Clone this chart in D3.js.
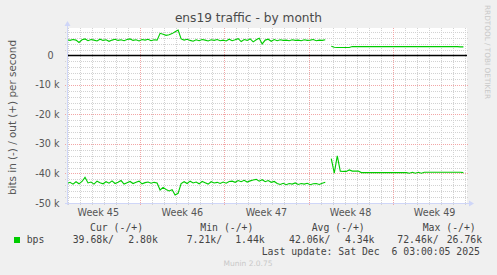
<!DOCTYPE html>
<html>
<head>
<meta charset="utf-8">
<script src="https://cdn.jsdelivr.net/npm/d3@7/dist/d3.min.js"></script>
<style>
  body { margin: 0; background: #f0f0f0; }
  svg { display: block; }
  text { white-space: pre; }
</style>
</head>
<body>
<div id="vizArea"></div>
<script>
// time window of the graph and sample step (6 hours)
var startTime = new Date(2025, 10, 2, 21, 30);
var endTime = new Date(2025, 11, 6, 4, 40);
var stepHours = 6;

// bits per second, in thousands. out is positive, in is negative, null = no data
var outBits = [
  5.3, 5.1, 5.4, 5.2, 4.4, 5.3, 5.6, 5.0, 5.4, 5.2, 4.9, 5.5, 5.1, 5.3, 4.8, 5.2,
  5.5, 5.1, 5.3, 5.0, 5.4, 5.6, 5.1, 5.3, 4.9, 5.4, 5.2, 5.5, 5.0, 5.3, 5.2,
  7.5, 7.2, 6.8, 7.0, 7.4, 8.0, 8.6, 5.6,
  5.2, 5.5, 5.1, 4.8, 5.3, 5.0, 5.4, 5.2, 4.9, 5.3, 5.1, 5.4, 5.0, 5.2, 4.9, 5.5,
  5.0, 5.3, 5.7, 4.7, 5.4, 5.1, 5.6, 4.6, 5.3, 5.8, 3.9, 5.2, 5.5, 4.8, 5.4, 5.0,
  5.3, 5.1, 5.2, 5.0, 5.3, 5.1, 5.2, 5.0, 5.3, 5.1, 5.2, 5.4, 5.0, 5.2, 5.1, 5.3,
  null,
  3.1, 2.8, 2.7, 2.7, 2.7, 2.7, 2.7, 3.0, 3.0, 3.0, 3.0, 3.0, 3.0, 3.0, 3.0, 3.0,
  3.0, 3.0, 3.0, 3.0, 3.0, 3.0, 3.0, 3.0, 3.0, 3.0, 3.0, 3.0, 3.0, 3.0, 3.0, 3.0,
  3.0, 3.0, 3.0, 3.0, 3.0, 3.0, 3.0, 3.0, 3.0, 3.0, 3.0, 2.9, 2.9
];
var inBits = [
  -43.4, -43.0, -43.6, -42.8, -43.5, -42.7, -41.3, -43.2, -42.9, -43.6, -42.6, -43.1,
  -43.5, -42.8, -43.3, -42.5, -43.4, -43.0, -42.4, -43.6, -43.1, -42.7, -43.4, -43.0,
  -42.6, -43.5, -43.1, -42.9, -43.3, -43.0, -43.2,
  -45.6, -44.7, -45.4, -45.9, -45.5, -47.3, -46.7, -43.4,
  -42.8, -43.4, -42.6, -43.2, -42.9, -43.5, -42.7, -43.1, -43.6, -42.8, -43.2, -43.0,
  -43.4, -42.9, -43.3, -42.7, -42.6, -43.0, -42.4, -42.8, -42.3, -42.9, -42.5, -42.2,
  -42.0, -42.6, -42.1, -42.8, -42.4, -43.0, -42.7, -43.4, -43.7, -43.3, -43.8, -43.4,
  -43.6, -43.2, -43.7, -43.4, -43.6, -43.3, -43.8, -43.5, -43.4, -43.7, -43.3, -43.0,
  null,
  -35.0, -39.9, -34.0, -39.2, -39.3, -39.3, -38.8, -39.2, -39.2, -39.2, -39.7, -39.7,
  -39.7, -39.7, -39.7, -39.7, -39.7, -39.7, -39.7, -39.7, -39.7, -39.7, -39.7, -39.7,
  -39.7, -39.7, -39.9, -39.6, -39.9, -39.6, -39.9, -39.6, -39.6, -39.6, -39.6, -39.6,
  -39.6, -39.6, -39.6, -39.6, -39.6, -39.6, -39.6, -39.6, -39.7
];

var yTicks = [0, -10, -20, -30, -40, -50];
var yTickLabels = ["0", "-10 k", "-20 k", "-30 k", "-40 k", "-50 k"];
var weekLabels = ["Week 45", "Week 46", "Week 47", "Week 48", "Week 49"];

var legendHeads = ["Cur (-/+)", "Min (-/+)", "Avg (-/+)", "Max (-/+)"];
var legendIn = ["39.68k/", "7.21k/", "42.06k/", "72.46k/"];
var legendOut = ["2.80k", "1.44k", "4.34k", "26.76k"];
var lastUpdate = "Last update: Sat Dec  6 03:00:05 2025";

var W = 497, H = 275;
var plotL = 67, plotR = 467, plotT = 28, plotB = 203;

var canvas = d3.select("#vizArea")
  .append("svg")
    .attr("width", W)
    .attr("height", H);

canvas.append("rect")
  .attr("width", W).attr("height", H)
  .attr("fill", "#f0f0f0");

var x = d3.scaleTime().domain([startTime, endTime]).range([plotL, plotR]);
var y = d3.scaleLinear().domain([-50, 9.3]).range([plotB, plotT]);
var px = function (v) { return Math.round(v) + 0.5; };

// SETUP CANVAS
canvas.append("rect")
  .attr("x", plotL).attr("y", plotT)
  .attr("width", plotR - plotL).attr("height", plotB - plotT)
  .attr("fill", "white");

// minor grid
var grid = canvas.append("g").attr("shape-rendering", "crispEdges");
grid.selectAll(".hmin")
  .data(d3.range(-48, 9.3, 2).filter(function (d) { return d % 10 !== 0; }))
  .enter().append("line")
    .attr("x1", plotL - 2).attr("x2", plotR + 2)
    .attr("y1", function (d) { return px(y(d)); })
    .attr("y2", function (d) { return px(y(d)); })
    .attr("stroke", "#d2d2d2").attr("stroke-dasharray", "1,1");
grid.selectAll(".vmin")
  .data(d3.timeDay.range(startTime, endTime).filter(function (d) { return d.getDay() !== 0; }))
  .enter().append("line")
    .attr("x1", function (d) { return px(x(d)); })
    .attr("x2", function (d) { return px(x(d)); })
    .attr("y1", plotT).attr("y2", plotB + 2)
    .attr("stroke", "#d2d2d2").attr("stroke-dasharray", "1,1");

// major grid
grid.selectAll(".hmaj")
  .data(yTicks.slice(1))
  .enter().append("line")
    .attr("x1", plotL - 2).attr("x2", plotR + 2)
    .attr("y1", function (d) { return px(y(d)); })
    .attr("y2", function (d) { return px(y(d)); })
    .attr("stroke", "#f2a6a6").attr("stroke-dasharray", "1,1");
grid.selectAll(".vmaj")
  .data(d3.timeSunday.range(startTime, endTime))
  .enter().append("line")
    .attr("x1", function (d) { return px(x(d)); })
    .attr("x2", function (d) { return px(x(d)); })
    .attr("y1", plotT).attr("y2", plotB + 2)
    .attr("stroke", "#f2a6a6").attr("stroke-dasharray", "1,1");

// series
var timeAt = function (i) { return d3.timeHour.offset(startTime, i * stepHours); };
var line = d3.line()
  .defined(function (d) { return d !== null; })
  .x(function (d, i) { return x(timeAt(i)); })
  .y(function (d) { return y(d); });

canvas.append("clipPath").attr("id", "plotClip")
  .append("rect").attr("x", plotL).attr("y", plotT)
  .attr("width", plotR - plotL).attr("height", plotB - plotT);

[outBits, inBits].forEach(function (s) {
  canvas.append("path")
    .datum(s)
    .attr("d", line)
    .attr("clip-path", "url(#plotClip)")
    .attr("fill", "none")
    .attr("stroke", "#00cc00")
    .attr("stroke-width", 1.1);
});

// zero line
canvas.append("line")
  .attr("x1", plotL).attr("x2", plotR)
  .attr("y1", px(y(0))).attr("y2", px(y(0)))
  .attr("stroke", "#000").attr("stroke-width", 1.3);

// axes
var axisColor = "#cfd6f8";
canvas.append("line")
  .attr("x1", plotL + 0.5).attr("x2", plotL + 0.5)
  .attr("y1", plotT - 3).attr("y2", plotB + 2)
  .attr("stroke", axisColor);
canvas.append("line")
  .attr("x1", plotL - 2).attr("x2", plotR + 3)
  .attr("y1", plotB + 0.5).attr("y2", plotB + 0.5)
  .attr("stroke", axisColor);
canvas.append("path")
  .attr("d", "M" + (plotL - 2.5) + "," + (plotT - 2) + "L" + (plotL + 0.5) + "," + (plotT - 7) + "L" + (plotL + 3.5) + "," + (plotT - 2) + "Z")
  .attr("fill", axisColor);
canvas.append("path")
  .attr("d", "M" + (plotR + 2) + "," + (plotB - 2.5) + "L" + (plotR + 7) + "," + (plotB + 0.5) + "L" + (plotR + 2) + "," + (plotB + 3.5) + "Z")
  .attr("fill", axisColor);

// y tick labels
var fontColor = "#555";
canvas.selectAll(".ylab")
  .data(yTicks)
  .enter().append("text")
    .attr("x", function (d, i) { return yTickLabels[i].indexOf("k") < 0 ? 53.5 : 59.5; })
    .attr("y", function (d) { return y(d) + 3.5; })
    .attr("text-anchor", "end")
    .attr("font-family", "DejaVu Sans")
    .attr("font-size", "9.6px")
    .attr("fill", fontColor)
    .text(function (d, i) { return yTickLabels[i]; });

// week labels, centred in each week
var weekStarts = d3.timeSunday.range(d3.timeSunday.floor(startTime), endTime);
canvas.selectAll(".xlab")
  .data(weekStarts)
  .enter().append("text")
    .attr("x", function (d) { return x(d3.timeHour.offset(d, 84)); })
    .attr("y", 216)
    .attr("text-anchor", "middle")
    .attr("font-family", "DejaVu Sans")
    .attr("font-size", "9.6px")
    .attr("fill", fontColor)
    .text(function (d, i) { return weekLabels[i]; });

// title
canvas.append("text")
  .attr("x", 248.5).attr("y", 22)
  .attr("text-anchor", "middle")
  .attr("font-family", "DejaVu Sans")
  .attr("font-size", "12.2px")
  .attr("fill", "#4a4a4a")
  .text("ens19 traffic - by month");

// vertical axis title
canvas.append("text")
  .attr("transform", "translate(16," + ((plotT + plotB) / 2 + 2) + ") rotate(-90)")
  .attr("text-anchor", "middle")
  .attr("font-family", "DejaVu Sans")
  .attr("font-size", "10.4px")
  .attr("fill", fontColor)
  .text("bits in (-) / out (+) per second");

// watermarks
canvas.append("text")
  .attr("transform", "translate(485,5) rotate(90)")
  .attr("font-family", "DejaVu Sans")
  .attr("font-size", "7.3px")
  .attr("fill", "#c8c8c8")
  .text("RRDTOOL / TOBI OETIKER");
canvas.append("text")
  .attr("x", 248).attr("y", 265.5)
  .attr("text-anchor", "middle")
  .attr("font-family", "DejaVu Sans")
  .attr("font-size", "7.5px")
  .attr("fill", "#c8c8c8")
  .text("Munin 2.0.75");

// legend
var mono = function (sel) {
  return sel.attr("font-family", "DejaVu Sans Mono").attr("font-size", "9.8px").attr("fill", "#444");
};
var headX = [90, 200.3, 311.7, 422.7];
var inX = [72.7, 186.7, 289, 397.3];
var outX = [128.3, 235.2, 345, 446.7];
legendHeads.forEach(function (t, i) {
  mono(canvas.append("text")).attr("x", headX[i]).attr("y", 230.5).text(t);
  mono(canvas.append("text")).attr("x", inX[i]).attr("y", 243).text(legendIn[i]);
  mono(canvas.append("text")).attr("x", outX[i]).attr("y", 243).text(legendOut[i]);
});
canvas.append("rect")
  .attr("x", 14).attr("y", 237).attr("width", 6).attr("height", 6)
  .attr("fill", "#00cc00");
mono(canvas.append("text")).attr("x", 26.7).attr("y", 243).text("bps");
mono(canvas.append("text")).attr("x", 261.7).attr("y", 255).text(lastUpdate);
</script>
</body>
</html>
